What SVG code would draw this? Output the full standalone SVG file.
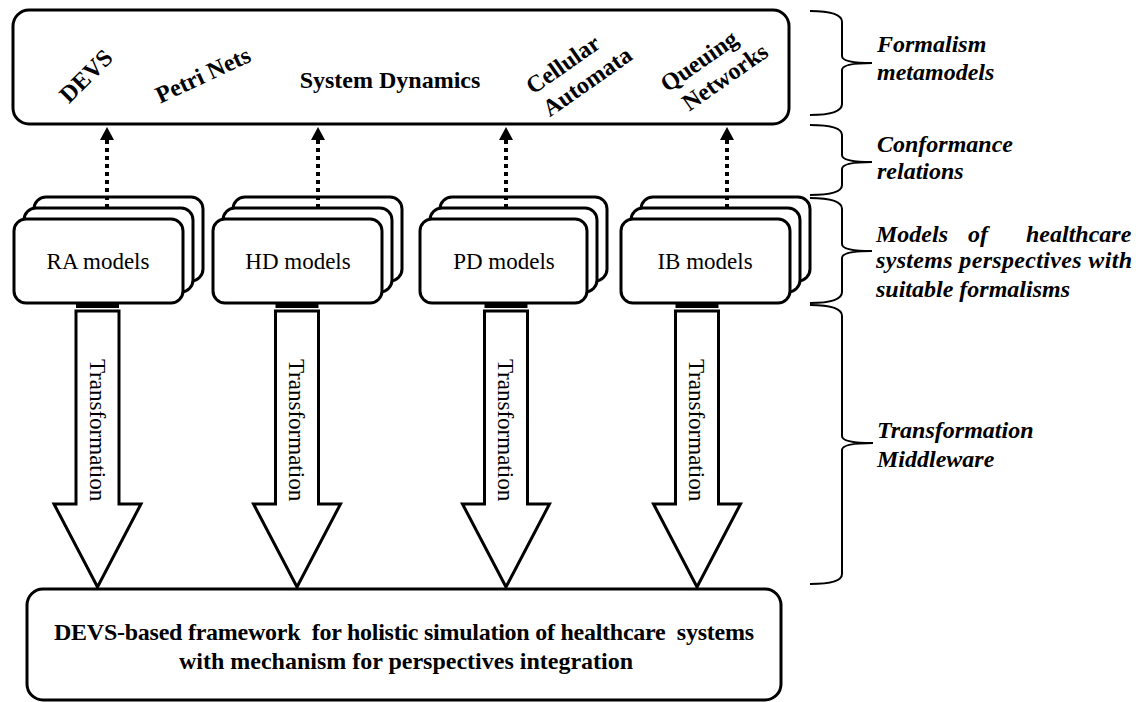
<svg xmlns="http://www.w3.org/2000/svg" width="1136" height="702" viewBox="0 0 1136 702">
  <style>
    .box { fill: #fff; stroke: #000; stroke-width: 3; }
    .t { font-family: "Liberation Serif", "Times New Roman", serif; fill: #000; }
    .b { font-weight: bold; font-size: 24px; }
    .lab { font-size: 23px; }
    .side { font-weight: bold; font-style: italic; font-size: 24px; }
    .dot { stroke: #000; stroke-width: 4; stroke-dasharray: 4 4; fill: none; }
    .tarrow { fill: #fff; stroke: #000; stroke-width: 3; stroke-linejoin: miter; }
    .brace { fill: none; stroke: #000; stroke-width: 2; }
  </style>
  <defs>
    <marker id="ah" markerUnits="userSpaceOnUse" markerWidth="14" markerHeight="14" refX="0" refY="7" orient="auto">
      <path d="M0,0 L13,7 L0,14 Z" fill="#000"/>
    </marker>
  </defs>
  <rect x="0" y="0" width="1136" height="702" fill="#fff"/>

  <!-- Top formalism box -->
  <g id="formalisms">
    <rect class="box" x="13" y="10" width="776" height="114" rx="16"/>
    <text class="t b" text-anchor="middle" transform="translate(86,76) rotate(-45)" y="8">DEVS</text>
    <text class="t b" text-anchor="middle" transform="translate(203,75) rotate(-25)" y="8">Petri Nets</text>
    <text class="t b" text-anchor="middle" x="390" y="88">System Dynamics</text>
    <g transform="translate(575,73) rotate(-35)">
      <text class="t b" text-anchor="middle" x="-5" y="-6">Cellular</text>
      <text class="t b" text-anchor="middle" x="5" y="22">Automata</text>
    </g>
    <g transform="translate(712,69) rotate(-35)">
      <text class="t b" text-anchor="middle" x="-6" y="-6">Queuing</text>
      <text class="t b" text-anchor="middle" x="6" y="22">Networks</text>
    </g>
  </g>

  <!-- Model stacks -->
  <g id="ra-models">
    <rect class="box" x="34" y="197" width="169" height="84" rx="12"/>
    <rect class="box" x="24" y="208" width="169" height="84" rx="12"/>
    <rect class="box" x="14" y="219" width="169" height="84" rx="12"/>
    <text class="t lab" text-anchor="middle" x="98" y="269">RA models</text>
  </g>
  <g id="hd-models">
    <rect class="box" x="233" y="197" width="169" height="84" rx="12"/>
    <rect class="box" x="223" y="208" width="169" height="84" rx="12"/>
    <rect class="box" x="213" y="219" width="169" height="84" rx="12"/>
    <text class="t lab" text-anchor="middle" x="298" y="269">HD models</text>
  </g>
  <g id="pd-models">
    <rect class="box" x="440" y="197" width="167" height="84" rx="12"/>
    <rect class="box" x="430" y="208" width="167" height="84" rx="12"/>
    <rect class="box" x="420" y="219" width="167" height="84" rx="12"/>
    <text class="t lab" text-anchor="middle" x="504" y="269">PD models</text>
  </g>
  <g id="ib-models">
    <rect class="box" x="641" y="197" width="169" height="84" rx="12"/>
    <rect class="box" x="631" y="208" width="169" height="84" rx="12"/>
    <rect class="box" x="621" y="219" width="169" height="84" rx="12"/>
    <text class="t lab" text-anchor="middle" x="705" y="269">IB models</text>
  </g>

  <!-- Bottom framework box -->
  <g id="framework">
    <rect class="box" x="27" y="589" width="754" height="111" rx="16"/>
    <text class="t b" text-anchor="middle" x="404" y="640" textLength="700" lengthAdjust="spacing" xml:space="preserve">DEVS-based framework  for holistic simulation of healthcare  systems</text>
    <text class="t b" text-anchor="middle" x="406" y="669">with mechanism for perspectives integration</text>
  </g>

  <!-- Connectors -->
  <g id="connectors">
    <line class="dot" x1="107" y1="208" x2="107" y2="140" marker-end="url(#ah)"/>
    <line class="dot" x1="318" y1="208" x2="318" y2="140" marker-end="url(#ah)"/>
    <line class="dot" x1="506" y1="208" x2="506" y2="140" marker-end="url(#ah)"/>
    <line class="dot" x1="727" y1="208" x2="727" y2="140" marker-end="url(#ah)"/>

    <rect x="76" y="302" width="43" height="6" fill="#000"/>
    <polygon class="tarrow" points="76,311 119,311 119,504 141,504 97.5,587 54,504 76,504"/>
    <text class="t lab" text-anchor="middle" transform="translate(97.5,430) rotate(90)" y="8">Transformation</text>

    <rect x="275.5" y="302" width="43" height="6" fill="#000"/>
    <polygon class="tarrow" points="275.5,311 318.5,311 318.5,504 340.5,504 297,587 253.5,504 275.5,504"/>
    <text class="t lab" text-anchor="middle" transform="translate(297,430) rotate(90)" y="8">Transformation</text>

    <rect x="484.5" y="302" width="43" height="6" fill="#000"/>
    <polygon class="tarrow" points="484.5,311 527.5,311 527.5,504 549.5,504 506,587 462.5,504 484.5,504"/>
    <text class="t lab" text-anchor="middle" transform="translate(506,430) rotate(90)" y="8">Transformation</text>

    <rect x="675.5" y="302" width="43" height="6" fill="#000"/>
    <polygon class="tarrow" points="675.5,311 718.5,311 718.5,504 740.5,504 697,587 653.5,504 675.5,504"/>
    <text class="t lab" text-anchor="middle" transform="translate(697,430) rotate(90)" y="8">Transformation</text>
  </g>

  <!-- Braces and side labels -->
  <g id="layer-formalism">
    <path class="brace" d="M810,11 Q842,11 842,22 L842,56 Q842,63 872,63 Q842,63 842,70 L842,104 Q842,115 810,115"/>
    <text class="t side" x="877" y="52">Formalism</text>
    <text class="t side" x="877" y="80">metamodels</text>
  </g>
  <g id="layer-conformance">
    <path class="brace" d="M810,125 Q842,125 842,135 L842,155 Q842,162 872,162 Q842,162 842,169 L842,185 Q842,195 810,195"/>
    <text class="t side" x="877" y="152">Conformance</text>
    <text class="t side" x="877" y="179">relations</text>
  </g>
  <g id="layer-models">
    <path class="brace" d="M810,198 Q842,198 842,209 L842,244 Q842,251 872,251 Q842,251 842,258 L842,292 Q842,303 810,303"/>
    <text class="t side" y="242"><tspan x="876">Models</tspan><tspan x="968">of</tspan><tspan x="1026">healthcare</tspan></text>
    <text class="t side" x="876" y="268" textLength="256" lengthAdjust="spacing">systems perspectives with</text>
    <text class="t side" x="876" y="297">suitable formalisms</text>
  </g>
  <g id="layer-middleware">
    <path class="brace" d="M810,305 Q842,305 842,316 L842,436 Q842,443 873,443 Q842,443 842,450 L842,574 Q842,584 810,584"/>
    <text class="t side" x="877" y="438">Transformation</text>
    <text class="t side" x="877" y="467">Middleware</text>
  </g>
</svg>
